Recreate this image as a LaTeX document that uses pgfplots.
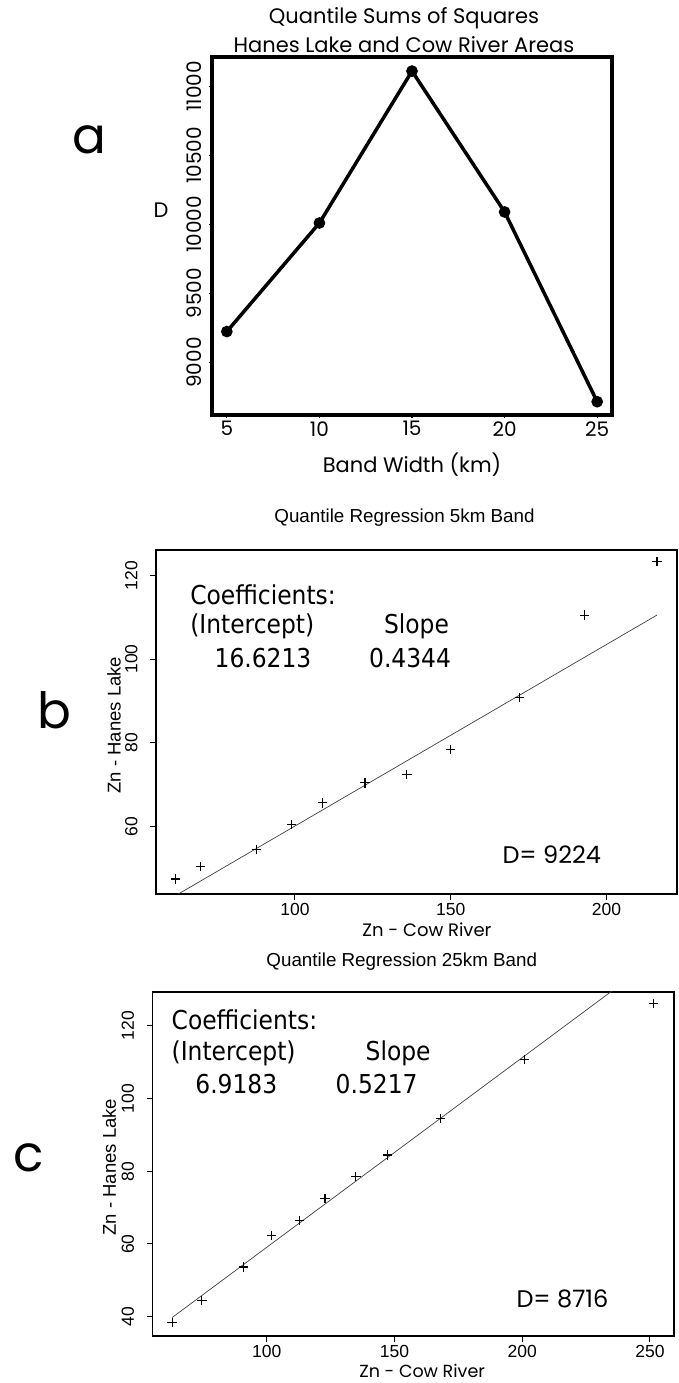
\documentclass[border=0pt]{standalone}
\usepackage{pgfplots}
\pgfplotsset{compat=1.18}
\usepackage{fontspec}
\setmainfont{Liberation Sans}
\newfontfamily\gothic{Poppins}
\newfontfamily\arial{Liberation Sans}
\newfontfamily\tahoma{DejaVu Sans Condensed}
\newcommand{\fs}[1]{\fontsize{#1}{#1}\selectfont}

% D for each band width
\pgfplotstableread{
bw D
5  9224
10 10010
15 11110
20 10090
25 8716
}\bandtable

% quantile pairs, 5 km band
\pgfplotstableread{
cow hanes
61.7  47.4
69.7  50.4
87.6  54.4
98.9  60.4
108.8 65.6
122.5 70.4
135.9 72.4
150.0 78.4
172.1 90.8
193.0 110.5
216.2 123.3
}\bandfive

% quantile pairs, 25 km band
\pgfplotstableread{
cow hanes
63.0  38.4
74.6  44.5
90.8  53.7
101.9 62.3
112.8 66.4
122.8 72.5
134.9 78.6
147.2 84.5
168.0 94.5
200.9 110.7
251.4 126.1
}\bandtwentyfive

\pgfplotsset{
  qqstyle/.style={
    scale only axis, anchor=south west,
    axis line style={line width=1.3pt},
    tick style={line width=1pt, black},
    tick align=outside, major tick length=6pt,
    xtick pos=bottom, ytick pos=left,
    /pgf/number format/assume math mode=true,
    ticklabel style={font=\arial\fs{17.5}},
    yticklabel style={xshift=-3pt, rotate=90, anchor=south},
    yticklabel shift={6pt},
    clip=true,
  },
}

\begin{document}
\begin{tikzpicture}[x=1pt,y=1pt]
\useasboundingbox (0,0) rectangle (678,1383);

% ---------- a ----------
\begin{axis}[
  at={(212pt,968pt)}, anchor=south west, scale only axis,
  width=400pt, height=358pt,
  xmin=4.2, xmax=25.8, ymin=8620, ymax=11212,
  xtick={5,10,15,20,25}, ytick={9000,9500,10000,10500,11000},
  scaled y ticks=false,
  axis line style={line width=3.2pt},
  tick style={line width=1.2pt, black},
  tick align=outside, major tick length=3pt,
  xtick pos=bottom, ytick pos=left,
  /pgf/number format/assume math mode=true,
  /pgf/number format/1000 sep={},
  ticklabel style={font=\gothic\fs{20}},
  yticklabel style={xshift=-4pt, rotate=90, anchor=south},
  clip=false,
]
\addplot[black, line width=3.5pt, mark=*, mark size=4pt] table[x=bw, y=D] {\bandtable};
\node[font=\gothic\fs{21}, align=center] at (axis description cs:0.48,1.075)
  {Quantile Sums of Squares\\[7pt]Hanes Lake and Cow River Areas};
\node[font=\gothic\fs{21}] at (axis description cs:0.5,-0.14) {Band Width (km)};
\node[font=\gothic\fs{21}] at (axis description cs:-0.1275,0.573) {D};
\node[font=\gothic\fs{50}] at (axis description cs:-0.3075,0.768) {a};
\end{axis}

% ---------- b ----------
\begin{axis}[qqstyle,
  at={(156pt,489pt)}, width=521pt, height=344pt,
  xmin=55.4, xmax=222.6, ymin=43.8, ymax=126.1,
  xtick={100,150,200}, ytick={60,80,100,120},
]
\addplot[black!75, line width=0.7pt] coordinates {(61.7,43.42) (216.2,110.54)};
\addplot[only marks, black, mark=+, mark size=4.7pt, mark options={line width=1.2pt}]
  table[x=cow, y=hanes] {\bandfive};
\end{axis}
\begin{axis}[qqstyle,
  at={(156pt,489pt)}, width=521pt, height=344pt,
  xmin=0, xmax=1, ymin=0, ymax=1, axis lines=none, clip=false,
]
\node[font=\tahoma\fs{26}, anchor=west] at (axis cs:0.059,0.869) {Coefficients:};
\node[font=\tahoma\fs{26}, anchor=west] at (axis cs:0.059,0.779) {(Intercept)};
\node[font=\tahoma\fs{26}, anchor=east] at (axis cs:0.569,0.779) {Slope};
\node[font=\tahoma\fs{26}, anchor=east] at (axis cs:0.305,0.686) {16.6213};
\node[font=\tahoma\fs{26}, anchor=east] at (axis cs:0.573,0.686) {0.4344};
\node[font=\gothic\fs{24}, anchor=east] at (axis cs:0.861,0.113) {D= 9224};
\node[font=\arial\fs{18.8}] at (axis cs:0.477,1.093) {Quantile Regression 5km Band};
\node[font=\gothic\fs{18}] at (axis cs:0.52,-0.105) {Zn - Cow River};
\node[font=\arial\fs{18.5}, rotate=90] at (axis cs:-0.0805,0.491) {Zn - Hanes Lake};
\node[font=\gothic\fs{50}] at (axis cs:-0.195,0.533) {b};
\end{axis}

% ---------- c ----------
\begin{axis}[qqstyle,
  at={(152.5pt,47pt)}, width=521.5pt, height=344pt,
  xmin=55.3, xmax=259.4, ymin=34.7, ymax=129.3,
  xtick={100,150,200,250}, ytick={40,60,80,100,120},
]
\addplot[black!75, line width=0.7pt] coordinates {(63.0,39.78) (251.4,138.07)};
\addplot[only marks, black, mark=+, mark size=4.7pt, mark options={line width=1.2pt}]
  table[x=cow, y=hanes] {\bandtwentyfive};
\end{axis}
\begin{axis}[qqstyle,
  at={(152.5pt,47pt)}, width=521.5pt, height=344pt,
  xmin=0, xmax=1, ymin=0, ymax=1, axis lines=none, clip=false,
]
\node[font=\tahoma\fs{26}, anchor=west] at (axis cs:0.030,0.919) {Coefficients:};
\node[font=\tahoma\fs{26}, anchor=west] at (axis cs:0.030,0.823) {(Intercept)};
\node[font=\tahoma\fs{26}, anchor=east] at (axis cs:0.540,0.823) {Slope};
\node[font=\tahoma\fs{26}, anchor=east] at (axis cs:0.246,0.733) {6.9183};
\node[font=\tahoma\fs{26}, anchor=east] at (axis cs:0.515,0.733) {0.5217};
\node[font=\gothic\fs{24}, anchor=east] at (axis cs:0.881,0.108) {D= 8716};
\node[font=\arial\fs{18.8}] at (axis cs:0.478,1.087) {Quantile Regression 25km Band};
\node[font=\gothic\fs{17.5}] at (axis cs:0.517,-0.102) {Zn - Cow River};
\node[font=\arial\fs{18.5}, rotate=90] at (axis cs:-0.083,0.491) {Zn - Hanes Lake};
\node[font=\gothic\fs{50}] at (axis cs:-0.238,0.517) {c};
\end{axis}
\end{tikzpicture}
\end{document}
